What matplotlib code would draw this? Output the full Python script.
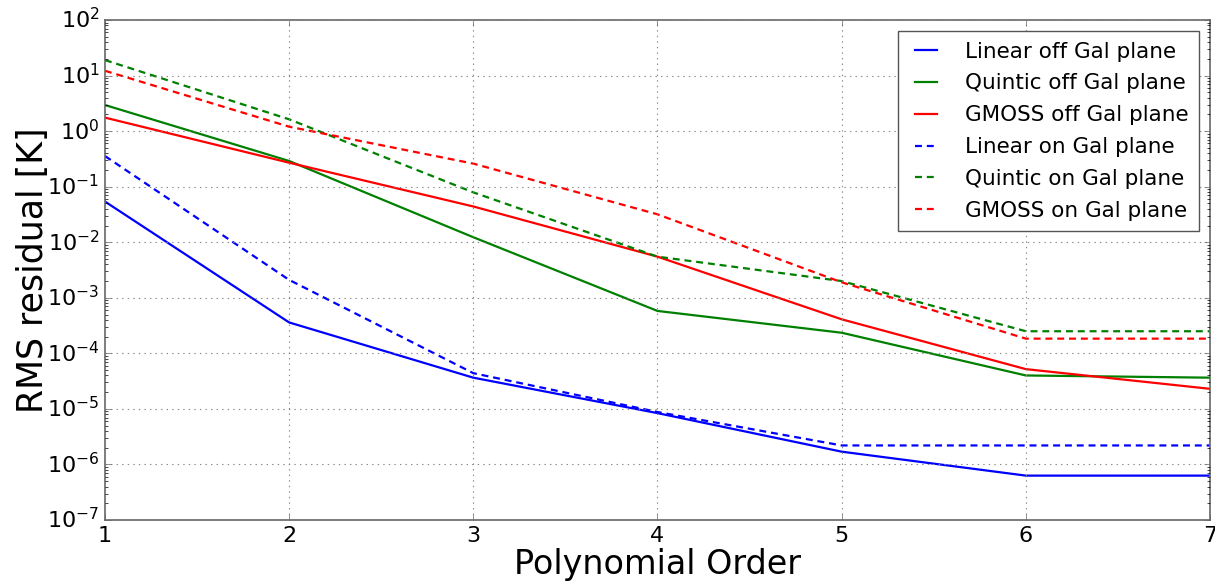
import matplotlib
matplotlib.use('Agg')
import matplotlib.pyplot as plt

order = [1, 2, 3, 4, 5, 6, 7]

linear_off = [0.054, 3.6e-4, 3.65e-5, 8.4e-6, 1.7e-6, 6.3e-7, 6.3e-7]
quintic_off = [2.95, 0.29, 0.0123, 5.8e-4, 2.35e-4, 4.0e-5, 3.65e-5]
gmoss_off = [1.75, 0.27, 0.044, 5.5e-3, 4.1e-4, 5.2e-5, 2.3e-5]
linear_on = [0.356, 2.1e-3, 4.4e-5, 8.8e-6, 2.2e-6, 2.2e-6, 2.2e-6]
quintic_on = [19.0, 1.63, 0.079, 5.5e-3, 2.0e-3, 2.5e-4, 2.5e-4]
gmoss_on = [12.2, 1.2, 0.26, 0.0318, 1.9e-3, 1.84e-4, 1.84e-4]

plt.style.use('classic')
fig = plt.figure(figsize=(12.15, 5.83), dpi=100, facecolor='white')
ax = fig.add_axes([0.0864, 0.108, 0.9095, 0.8577])

lw = 1.6
dash = (5, 3.5)
ax.plot(order, linear_off, 'b-', lw=lw, label='Linear off Gal plane')
ax.plot(order, quintic_off, 'g-', lw=lw, label='Quintic off Gal plane')
ax.plot(order, gmoss_off, 'r-', lw=lw, label='GMOSS off Gal plane')
ax.plot(order, linear_on, 'b--', lw=lw, dashes=dash, label='Linear on Gal plane')
ax.plot(order, quintic_on, 'g--', lw=lw, dashes=dash, label='Quintic on Gal plane')
ax.plot(order, gmoss_on, 'r--', lw=lw, dashes=dash, label='GMOSS on Gal plane')

ax.set_yscale('log')
ax.set_xlim(1, 7)
ax.set_ylim(1e-7, 1e2)
ax.set_xticks(order)
ax.grid(True, color='#888888', linestyle=':', linewidth=0.8)
for s in ax.spines.values():
    s.set_color('#666666')
    s.set_linewidth(1.2)
ax.tick_params(labelsize=16, color='#666666')

ax.set_xlabel('Polynomial Order', fontsize=24, labelpad=2)
ax.set_ylabel('RMS residual [K]', fontsize=25, labelpad=-2)

leg = ax.legend(loc='upper right', fontsize=15.5, handlelength=1.6,
                handletextpad=1.0, borderpad=0.5, labelspacing=0.55)
leg.get_frame().set_edgecolor('#555555')

fig.savefig('out.png', dpi=100, facecolor='white')
